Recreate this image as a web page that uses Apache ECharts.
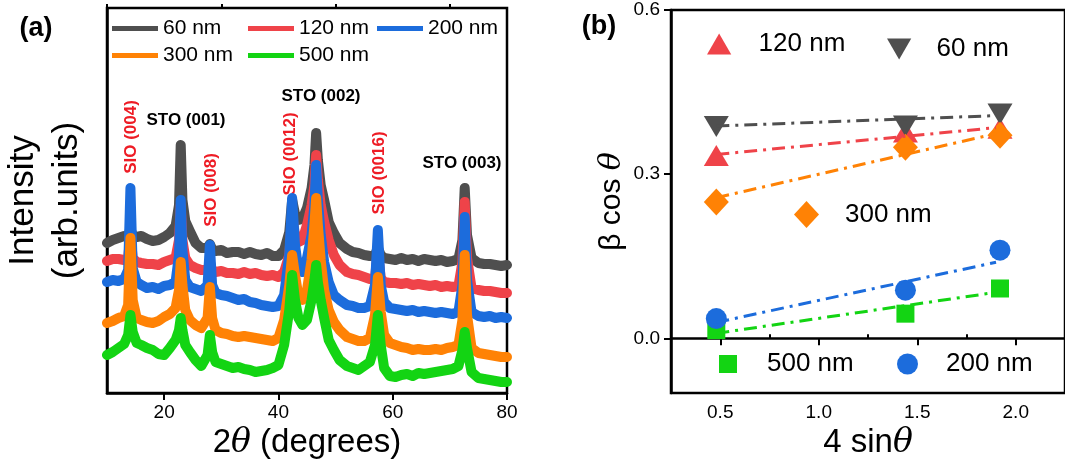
<!DOCTYPE html>
<html>
<head>
<meta charset="utf-8">
<script src="https://cdn.jsdelivr.net/npm/echarts@6/dist/echarts.min.js"></script>
<style>
  html, body { margin: 0; padding: 0; background: #fff; }
  #chart { width: 1065px; height: 468px; }
</style>
</head>
<body>
<div id="chart"></div>
<script>
// (a) XRD patterns, shared 2theta grid (degrees)
const twoTheta = [10, 11, 12, 13, 13.7, 14.1, 14.5, 15.2, 16, 17,
  18, 19, 20, 21, 22, 22.6, 22.9, 23.2, 23.7, 24.5,
  25.5, 26.5, 27.6, 28.0, 28.4, 29, 30, 31, 32, 33,
  34, 35, 36, 37, 38, 39, 40, 41, 41.9, 42.4,
  42.9, 43.5, 44.2, 45, 45.8, 46.3, 46.6, 46.9, 47.4, 48,
  48.8, 49.7, 50.7, 52, 53, 54, 55, 56, 56.9, 57.4,
  57.9, 58.5, 59.5, 60.5, 61.5, 62.5, 63.5, 64.5, 65.5, 66.5,
  67.5, 68.5, 69.5, 70.5, 71.5, 72.2, 72.6, 73.0, 73.8, 75,
  76, 77, 78, 79, 80];

// intensities (arb. units, offset stacked)
const int60 = [150, 153, 155, 157, 156, 165, 157, 156, 157, 154,
  152, 153, 156, 160, 167, 188, 248, 193, 172, 162,
  150, 145, 145, 149, 144, 142, 143, 140, 141, 141,
  139, 141, 139, 138, 140, 137, 137, 143, 161, 193,
  179, 173, 174, 185, 205, 228, 260, 233, 208, 193,
  171, 160, 150, 144, 141, 140, 138, 137, 138, 145,
  138, 135, 134, 133, 135, 133, 134, 132, 134, 133,
  132, 133, 131, 132, 134, 153, 205, 158, 135, 130,
  129, 129, 128, 127, 128];
const int120 = [132, 134, 134, 133, 135, 158, 135, 131, 130, 129,
  129, 128, 131, 133, 135, 153, 188, 153, 135, 128,
  125, 123, 123, 131, 123, 121, 122, 120, 120, 119,
  121, 119, 120, 118, 117, 118, 116, 121, 138, 178,
  158, 151, 153, 168, 188, 208, 238, 213, 188, 171,
  153, 138, 128, 121, 119, 118, 116, 114, 115, 143,
  115, 111, 110, 110, 109, 110, 108, 109, 108, 107,
  108, 106, 107, 106, 107, 131, 191, 135, 105, 103,
  102, 102, 101, 100, 100];
const int200 = [111, 113, 112, 114, 123, 205, 125, 111, 108, 105,
  106, 104, 107, 108, 111, 138, 193, 143, 113, 106,
  104, 102, 108, 148, 108, 100, 98, 97, 95, 93,
  94, 91, 90, 88, 87, 86, 87, 98, 138, 195,
  148, 123, 121, 135, 158, 188, 228, 193, 158, 131,
  111, 98, 93, 88, 87, 85, 85, 87, 108, 163,
  108, 91, 85, 84, 83, 82, 83, 81, 82, 81,
  80, 81, 80, 79, 81, 108, 176, 113, 81, 77,
  76, 77, 75, 76, 75];
const int300 = [70, 72, 75, 77, 88, 155, 93, 75, 73, 71,
  70, 72, 76, 79, 85, 103, 131, 108, 83, 73,
  68, 65, 75, 106, 75, 63, 60, 59, 57, 56,
  57, 56, 55, 54, 53, 52, 55, 73, 108, 138,
  118, 97, 93, 103, 133, 168, 195, 168, 133, 103,
  83, 71, 63, 56, 54, 52, 52, 55, 78, 116,
  81, 58, 50, 48, 46, 45, 43, 44, 43, 43,
  44, 43, 45, 46, 48, 73, 138, 78, 45, 40,
  39, 38, 37, 36, 36];
const int500 = [38, 41, 45, 49, 58, 78, 61, 50, 48, 45,
  43, 39, 38, 45, 53, 63, 75, 63, 48, 41,
  33, 27, 38, 58, 41, 31, 29, 27, 25, 26,
  24, 23, 21, 22, 23, 25, 28, 48, 83, 118,
  93, 75, 68, 73, 93, 113, 128, 111, 93, 75,
  53, 43, 33, 27, 25, 23, 27, 31, 48, 78,
  48, 25, 17, 16, 18, 19, 17, 20, 19, 20,
  21, 22, 23, 24, 27, 43, 61, 45, 21, 15,
  14, 13, 12, 11, 11];

const xMajorA = [20, 40, 60, 80];
const xMinorA = [10, 30, 50, 70];

// (b) Williamson-Hall points
const fourSin = [0.48, 1.44, 1.92];
const wh60 = [0.387, 0.388, 0.410];
const wh120 = [0.334, 0.377, 0.384];
const wh200 = [0.036, 0.088, 0.161];
const wh300 = [0.249, 0.349, 0.371];
const wh500 = [0.015, 0.045, 0.091];

// fitted lines, read at the two ends
const fitX = [0.48, 1.9];
const fit60 = [0.388, 0.407];
const fit120 = [0.336, 0.385];
const fit200 = [0.029, 0.139];
const fit300 = [0.257, 0.374];
const fit500 = [0.009, 0.084];

const xMajorB = [0.5, 1.0, 1.5, 2.0];
const xMinorB = [0.75, 1.25, 1.75];
const yMajorB = [0.0, 0.3, 0.6];
const yMinorB = [0.15, 0.45];

const colors = {
  '60 nm': '#4f4f4f',
  '120 nm': '#ef4349',
  '200 nm': '#1c6cdc',
  '300 nm': '#ff8205',
  '500 nm': '#13d413'
};

const FONT = "'Liberation Sans', Arial, sans-serif";

const chart = echarts.init(document.getElementById('chart'));

function xrd(name, vals) {
  return {
    name: name,
    type: 'line',
    xAxisIndex: 0,
    yAxisIndex: 0,
    showSymbol: false,
    symbol: 'none',
    animation: false,
    color: colors[name],
    lineStyle: { width: 10, color: colors[name], join: 'round', cap: 'round' },
    data: twoTheta.map((t, i) => [t, vals[i]])
  };
}

function fit(name, vals) {
  return {
    name: name + ' fit',
    type: 'line',
    xAxisIndex: 2,
    yAxisIndex: 1,
    symbol: 'none',
    animation: false,
    lineStyle: { width: 3, color: colors[name], type: [13, 6, 3, 6] },
    data: fitX.map((x, i) => [x, vals[i]])
  };
}

function points(name, vals, symbol, size, rotate) {
  return {
    name: name,
    type: 'scatter',
    xAxisIndex: 2,
    yAxisIndex: 1,
    symbol: symbol,
    symbolSize: size,
    symbolRotate: rotate || 0,
    animation: false,
    itemStyle: { color: colors[name], opacity: 1 },
    data: fourSin.map((x, i) => [x, vals[i]])
  };
}

const legendA = [
  ['60 nm', 112, 18], ['120 nm', 248, 18], ['200 nm', 377, 18],
  ['300 nm', 112, 45], ['500 nm', 248, 45]
].map(([n, l, t]) => ({
  data: [{ name: n, icon: 'rect', itemStyle: { color: colors[n] } }],
  left: l, top: t, padding: 0,
  itemWidth: 46, itemHeight: 5, selectedMode: false,
  textStyle: { fontSize: 21, color: '#000', fontFamily: FONT }
}));

const triUp = 'path://M5,0L10,8.66L0,8.66Z';
const triDown = 'path://M0,0L10,0L5,8.66Z';
const legendB = [
  ['120 nm', triUp, 707, 31, 25, 21, 22],
  ['60 nm', triDown, 887, 36, 25, 21, 20],
  ['300 nm', 'diamond', 794, 201, 25, 27, 21],
  ['500 nm', 'rect', 719, 351, 18, 18, 25],
  ['200 nm', 'circle', 897, 351, 21, 21, 23]
].map(([n, icon, l, t, w, h, pad]) => ({
  data: [{ name: n, icon: icon, itemStyle: { color: colors[n] } }],
  left: l, top: t, padding: 0,
  itemWidth: w, itemHeight: h, selectedMode: false,
  textStyle: { fontSize: 26, color: '#000', fontFamily: FONT, padding: [0, 0, 0, pad] }
}));

function peakLabel(text, x, y, rotated, color) {
  return {
    type: 'text', x: x, y: y, rotation: rotated ? Math.PI / 2 : 0,
    style: {
      text: text, fill: color, font: 'bold 17px ' + FONT,
      align: 'center', verticalAlign: 'middle'
    }
  };
}

const axisBlack = { lineStyle: { color: '#000', width: 2.5 } };

chart.setOption({
  backgroundColor: '#fff',
  textStyle: { fontFamily: FONT },
  grid: [
    { left: 107, top: 8, right: 558, bottom: 75, show: true, borderColor: '#000', borderWidth: 2.5, backgroundColor: 'transparent' },
    { left: 671, top: 10, right: -5, bottom: 75, show: true, borderColor: '#000', borderWidth: 2.5, backgroundColor: 'transparent' }
  ],
  xAxis: [
    {
      gridIndex: 0, type: 'value', min: 10, max: 80,
      axisLine: axisBlack,
      axisTick: { customValues: xMajorA, length: 7, lineStyle: { color: '#000', width: 2 } },
      axisLabel: { customValues: xMajorA, color: '#000', fontSize: 19, margin: 10 },
      splitLine: { show: false },
      name: '2{i|θ} (degrees)', nameLocation: 'middle', nameGap: 32,
      nameTextStyle: { fontSize: 33, color: '#000', rich: { i: { fontSize: 33, fontStyle: 'italic', fontFamily: 'DejaVu Serif' } } }
    },
    {
      gridIndex: 0, type: 'value', min: 10, max: 80,
      axisLine: { show: false },
      axisTick: { customValues: xMinorA, length: 4, lineStyle: { color: '#000', width: 2 } },
      axisLabel: { show: false }, splitLine: { show: false }
    },
    {
      gridIndex: 1, type: 'value', min: 0.25, max: 2.25,
      axisLine: axisBlack,
      axisTick: { customValues: xMajorB, length: 7, lineStyle: { color: '#000', width: 2 } },
      axisLabel: { customValues: xMajorB, color: '#000', fontSize: 19, margin: 10, formatter: v => v.toFixed(1) },
      splitLine: { show: false },
      name: '4 sin{i|θ}', nameLocation: 'middle', nameGap: 32,
      nameTextStyle: { fontSize: 33, color: '#000', rich: { i: { fontSize: 33, fontStyle: 'italic', fontFamily: 'DejaVu Serif' } } }
    },
    {
      gridIndex: 1, type: 'value', min: 0.25, max: 2.25,
      axisLine: { show: false },
      axisTick: { customValues: xMinorB, length: 4, lineStyle: { color: '#000', width: 2 } },
      axisLabel: { show: false }, splitLine: { show: false }
    }
  ],
  yAxis: [
    {
      gridIndex: 0, type: 'value', min: 0, max: 385,
      axisLine: axisBlack, axisTick: { show: false }, axisLabel: { show: false },
      splitLine: { show: false },
      name: 'Intensity\n(arb.units)', nameLocation: 'middle', nameGap: 18,
      nameTextStyle: { fontSize: 35, color: '#000', lineHeight: 44 }
    },
    {
      gridIndex: 1, type: 'value', min: -0.1, max: 0.6,
      axisLine: axisBlack,
      axisTick: { customValues: yMajorB, length: 7, lineStyle: { color: '#000', width: 2 } },
      axisLabel: { customValues: yMajorB, color: '#000', fontSize: 19, margin: 11, formatter: v => v.toFixed(1) },
      splitLine: { show: false },
      name: 'β cos {i|θ}', nameLocation: 'middle', nameGap: 44,
      nameTextStyle: { fontSize: 30, color: '#000', rich: { i: { fontSize: 30, fontStyle: 'italic', fontFamily: 'DejaVu Serif' } } }
    },
    {
      gridIndex: 1, type: 'value', min: -0.1, max: 0.6,
      axisLine: { show: false },
      axisTick: { customValues: yMinorB, length: 4, lineStyle: { color: '#000', width: 2 } },
      axisLabel: { show: false }, splitLine: { show: false }
    }
  ],
  legend: legendA.concat(legendB),
  graphic: [
    { type: 'text', x: 36, y: 29, style: { text: '(a)', fill: '#000', font: 'bold 27px ' + FONT, align: 'center', verticalAlign: 'middle' } },
    { type: 'text', x: 599, y: 27, style: { text: '(b)', fill: '#000', font: 'bold 27px ' + FONT, align: 'center', verticalAlign: 'middle' } },
    peakLabel('SIO (004)', 131, 137, true, '#ee1c25'),
    peakLabel('SIO (008)', 211, 190, true, '#ee1c25'),
    peakLabel('SIO (0012)', 290, 154, true, '#ee1c25'),
    peakLabel('SIO (0016)', 379, 173, true, '#ee1c25'),
    peakLabel('STO (001)', 186, 120, false, '#000'),
    peakLabel('STO (002)', 321, 96, false, '#000'),
    peakLabel('STO (003)', 462, 163, false, '#000')
  ],
  series: [
    xrd('60 nm', int60),
    xrd('120 nm', int120),
    xrd('200 nm', int200),
    xrd('300 nm', int300),
    xrd('500 nm', int500),
    fit('60 nm', fit60),
    fit('120 nm', fit120),
    fit('300 nm', fit300),
    fit('200 nm', fit200),
    fit('500 nm', fit500),
    points('120 nm', wh120, 'triangle', [25, 21]),
    points('60 nm', wh60, 'triangle', [25, 21], 180),
    points('300 nm', wh300, 'diamond', [25, 27]),
    points('500 nm', wh500, 'rect', [18, 18]),
    points('200 nm', wh200, 'circle', 21)
  ]
});
</script>
</body>
</html>
